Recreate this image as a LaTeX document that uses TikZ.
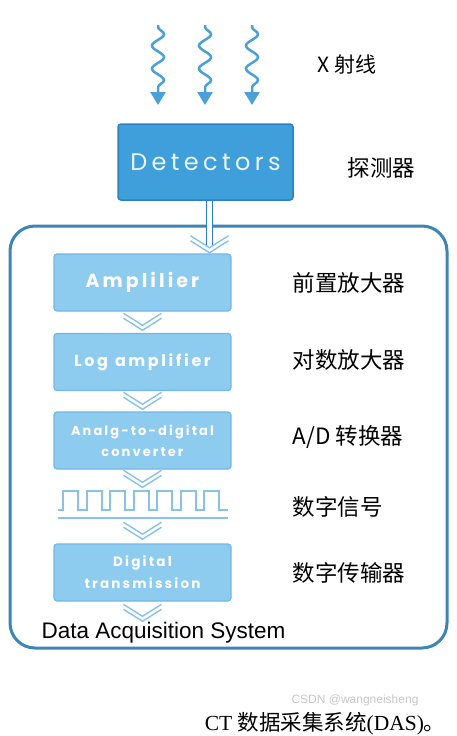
\documentclass[tikz,border=0pt]{standalone}
\usepackage{fontspec}
\setmainfont{Liberation Sans}
\newfontfamily\cjk{Noto Sans CJK SC}
\newfontfamily\boxfont[LetterSpace=16]{Poppins}
\newfontfamily\detfont[LetterSpace=18]{Poppins}
\newfontfamily\capserif{Liberation Serif}
\newcommand\stagefont[2]{\boxfont\bfseries\fontsize{#1}{#2}\selectfont}
\usetikzlibrary{arrows.meta,decorations.pathmorphing,calc}

\definecolor{detblue}{HTML}{3E9FDB}
\definecolor{detedge}{HTML}{2C83C2}
\definecolor{stagefill}{HTML}{8DCBEF}
\definecolor{stageedge}{HTML}{72B8E4}
\definecolor{frameblue}{HTML}{3B86B5}
\definecolor{chevblue}{HTML}{86C3E6}
\definecolor{rayblue}{HTML}{4AA0D8}

\tikzstyle{detector}=[draw=detedge,fill=detblue,line width=1.5pt,rounded corners=3pt,minimum width=175pt,minimum height=76pt,text=white!90!detblue,font=\detfont\fontsize{24}{24}\selectfont]
\tikzstyle{stage}=[draw=stageedge,fill=stagefill,line width=1.2pt,rounded corners=3pt,minimum width=177pt,minimum height=57pt,text=white,align=center,inner sep=0pt]
\tikzstyle{side text}=[anchor=west,font=\cjk\fontsize{22.5}{22.5}\selectfont]
\tikzstyle{chevron}=[draw=chevblue,line width=1.4pt]
\tikzstyle{wave}=[draw=chevblue,line width=2pt]
\tikzstyle{xray}=[draw=rayblue,line width=2.5pt,decorate,decoration={snake,amplitude=6pt,segment length=23pt,pre length=2pt,post length=14pt},-{Triangle[width=15pt,length=13pt]}]

\begin{document}
\begin{tikzpicture}[x=1pt,y=-1pt]
\useasboundingbox (0,0) rectangle (456,736);

% x-rays
\foreach \x in {158,205,252}{
  \coordinate (ray top \x) at (\x,25);
  \coordinate (ray end \x) at (\x,105);
  \draw[xray] (ray top \x) -- (ray end \x);
}
\node[side text,font=\cjk\fontsize{21}{21}\selectfont] (xlabel) at (314,65) {X 射线};

% detectors
\node[detector] (det) at (205.5,162) {Detectors};
\node[side text] (detlabel) at (344,168) {探测器};

% DAS frame
\draw[frameblue,line width=3pt,rounded corners=25pt] (10,226) rectangle (447,648);
\draw[detedge,line width=1.6pt,double=white,double distance=4.5pt] ($(det.south)+(4,0)$) -- ++(0,45);
\draw[chevron] ($(det.south)+(-15,35)$) -- ++(19,12) -- ++(19,-12);
\draw[chevron] ($(det.south)+(-15,40)$) -- ++(19,12) -- ++(19,-12);

% stages
\foreach \pos/\name/\fnt/\txt in {{(142.5,282.5)/amp/{\stagefont{19}{19}}/Amplilier},
                            {(142.5,362)/log/{\stagefont{16}{16}}/{Log\hspace{7pt}amplifier}},
                            {(142.5,440.5)/adc/{\stagefont{13}{21}}/{Analg-to-digital\\converter}},
                            {(142.5,572.5)/dig/{\stagefont{13.5}{22}}/{Digital\\transmission}}}{
  \node[stage,font=\fnt] (\name) at \pos {\txt};
}

% digital signal
\coordinate (sig top) at (142.5,489);
\coordinate (sig bot) at (142.5,519);
\draw[wave] (58,510) \foreach \k in {0,...,6}{ -- ({63+23.5*\k},510) -- ++(0,-19) -- ++(15,0) -- ++(0,19) } -- (228,510);
\draw[wave] (58,518) -- (228,518);

\node[anchor=west,font=\fontsize{22.5}{22.5}\selectfont] (das) at (38,633) {Data Acquisition System};
\coordinate (das top) at (142.5,625);

% chevrons between stages
\foreach \source/\dest in {amp.south/log.north, log.south/adc.north, adc.south/sig top,
                           sig bot/dig.north, dig.south/das top}{
  \path (\source) -- coordinate[midway] (mid) (\dest);
  \draw[chevron] ($(mid)+(-19,-9)$) -- ++(19,12) -- ++(19,-12);
  \draw[chevron] ($(mid)+(-19,-4)$) -- ++(19,12) -- ++(19,-12);
}

% side labels
\foreach \y/\name/\txt in {283/amplabel/前置放大器, 360/loglabel/对数放大器, 437/adclabel/{A/D 转换器},
                           507/siglabel/数字信号, 573/diglabel/数字传输器}{
  \node[side text] (\name) at (289,\y) {\txt};
}

% caption
\node[anchor=east,font=\fontsize{21.5}{21.5}\selectfont] (caption) at (449,724)
  {\capserif CT {\cjk 数据采集系统}(DAS){\cjk 。}};
\node[text=gray,opacity=0.45,font=\fontsize{12}{12}\selectfont,anchor=south] (mark) at (355,710) {CSDN @wangneisheng};
\end{tikzpicture}
\end{document}
